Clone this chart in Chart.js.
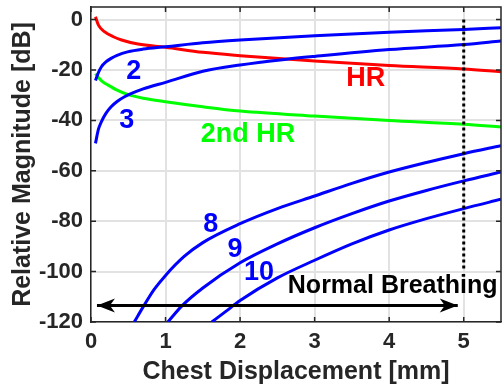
<!DOCTYPE html>
<html>
<head>
<meta charset="utf-8">
<script src="https://cdn.jsdelivr.net/npm/chart.js@4"></script>
<style>
  html, body { margin: 0; padding: 0; background: #fff; }
  canvas { display: block; }
</style>
</head>
<body>
<canvas id="chart" width="502" height="392"></canvas>
<script>
const FONT = "'Liberation Sans', Arial, sans-serif";
const INK = '#262626';
const GRID = '#e2e2e2';
const BLUE = '#0000ff';
const RED = '#ff0000';
const GREEN = '#00ff00';

// heartbeat fundamental and its second harmonic
const hrX = [0.06, 0.1, 0.18, 0.3, 0.41, 0.63, 1, 1.5, 2, 3, 4, 5, 5.5];
const hrY = [1.1, -2.2, -4.8, -6.8, -8.1, -9.7, -11, -13, -14.3, -16.4, -18.2, -19.6, -20.7];
const hr2X = [0.06, 0.1, 0.15, 0.23, 0.35, 0.49, 0.7, 1, 1.5, 2, 3, 4, 5, 5.5];
const hr2Y = [-21.4, -23, -24.5, -26, -28, -29.7, -31.2, -32.6, -34.6, -36.3, -38.3, -40, -41.5, -42.6];

// respiration harmonics
const h2X = [0.06, 0.1, 0.14, 0.2, 0.27, 0.35, 0.49, 0.7, 1, 1.5, 2, 3, 4, 5, 5.5];
const h2Y = [-24.2, -21, -18.7, -16.8, -15.4, -14.2, -12.8, -11.7, -10.8, -9.2, -8.1, -6.4, -5, -3.9, -3.2];
const h3X = [0.06, 0.1, 0.14, 0.2, 0.27, 0.35, 0.45, 0.7, 1, 1.5, 2, 2.6, 3, 4, 5, 5.5];
const h3Y = [-49.1, -43.5, -40.5, -37.2, -34.6, -32.5, -30.6, -27.5, -24.9, -20.5, -18, -15.8, -14.6, -11.9, -9.9, -8.5];
const h8X = [0.58, 0.7, 0.85, 1, 1.25, 1.5, 2, 2.5, 3, 3.5, 4, 4.5, 5, 5.5];
const h8Y = [-120, -114, -107, -101.5, -94, -88.5, -81, -75, -70, -65, -60.5, -56.7, -53.2, -50];
const h9X = [1.03, 1.22, 1.5, 2, 2.5, 3, 3.5, 4, 4.5, 5, 5.5];
const h9Y = [-120, -113.6, -106.5, -96.5, -89, -82.6, -77, -72, -67.8, -64, -60.5];
const h10X = [1.62, 1.8, 2, 2.5, 3, 3.5, 4, 4.5, 5, 5.5];
const h10Y = [-120, -116, -111.5, -102.5, -95.5, -89, -83.5, -79, -75, -71.3];

// normal breathing range marker and its upper limit
const breathX = [0.08, 4.92];
const breathY = -113.5;
const limitX = 5;
const limitY = [0, -100];

const xTicks = [0, 1, 2, 3, 4, 5];
const yTicks = [-120, -100, -80, -60, -40, -20, 0];

const tagText = ['2', '3', 'HR', '2nd HR', '8', '9', '10'];
const tagX = [0.574, 0.479, 3.687, 2.107, 1.608, 1.933, 2.255];
const tagY = [-20.7, -40.2, -23.3, -45.7, -81.5, -91.4, -100.4];
const tagColor = [BLUE, BLUE, RED, GREEN, BLUE, BLUE, BLUE];
const noteText = 'Normal Breathing';
const noteX = 4.047;
const noteY = -105.6;

const pts = (xs, ys) => xs.map((x, i) => ({ x, y: ys[i] }));

function curve(xs, ys, color) {
  return {
    data: pts(xs, ys),
    borderColor: color,
    borderWidth: 3,
    pointRadius: 0,
    cubicInterpolationMode: 'monotone',
    fill: false,
  };
}

function arrowHead(ctx, x, y, dir) {
  const L = 18, w = 7;
  ctx.beginPath();
  ctx.moveTo(x, y);
  ctx.lineTo(x - dir * L, y - w);
  ctx.lineTo(x - dir * L * 0.72, y);
  ctx.lineTo(x - dir * L, y + w);
  ctx.closePath();
  ctx.fill();
}

const framePlugin = {
  id: 'frame',
  afterDatasetsDraw(chart) {
    const { ctx, chartArea: a, scales: { x, y } } = chart;
    ctx.save();

    // arrow heads on the breathing range line
    ctx.fillStyle = '#000';
    const py = y.getPixelForValue(breathY);
    arrowHead(ctx, x.getPixelForValue(breathX[0]), py, -1);
    arrowHead(ctx, x.getPixelForValue(breathX[1]), py, 1);

    // top/right box edges and inward ticks
    ctx.strokeStyle = INK;
    ctx.lineWidth = 1.5;
    ctx.beginPath();
    ctx.moveTo(a.left, a.top);
    ctx.lineTo(a.right, a.top);
    ctx.lineTo(a.right, a.bottom);
    xTicks.forEach(v => {
      const px = x.getPixelForValue(v);
      ctx.moveTo(px, a.bottom); ctx.lineTo(px, a.bottom - 5);
      ctx.moveTo(px, a.top); ctx.lineTo(px, a.top + 5);
    });
    yTicks.forEach(v => {
      const p = y.getPixelForValue(v);
      ctx.moveTo(a.left, p); ctx.lineTo(a.left + 5, p);
      ctx.moveTo(a.right, p); ctx.lineTo(a.right - 5, p);
    });
    ctx.stroke();

    // curve tags
    ctx.textAlign = 'center';
    ctx.textBaseline = 'middle';
    ctx.font = `bold 27px ${FONT}`;
    tagText.forEach((t, i) => {
      ctx.fillStyle = tagColor[i];
      ctx.fillText(t, x.getPixelForValue(tagX[i]), y.getPixelForValue(tagY[i]));
    });
    ctx.font = `bold 25px ${FONT}`;
    ctx.fillStyle = '#000';
    ctx.fillText(noteText, x.getPixelForValue(noteX), y.getPixelForValue(noteY));
    ctx.restore();
  }
};

const tickFont = { family: FONT, size: 22, weight: 'bold' };
const titleFont = { family: FONT, size: 25, weight: 'bold' };

new Chart(document.getElementById('chart'), {
  type: 'line',
  data: {
    datasets: [
      {
        data: breathX.map(v => ({ x: v, y: breathY })),
        borderColor: '#000', borderWidth: 3, pointRadius: 0,
      },
      {
        data: limitY.map(v => ({ x: limitX, y: v })),
        borderColor: '#000', borderWidth: 3, borderDash: [3, 3], pointRadius: 0,
      },
      curve(h2X, h2Y, BLUE),
      curve(h3X, h3Y, BLUE),
      curve(h8X, h8Y, BLUE),
      curve(h9X, h9Y, BLUE),
      curve(h10X, h10Y, BLUE),
      curve(hrX, hrY, RED),
      curve(hr2X, hr2Y, GREEN),
    ]
  },
  options: {
    responsive: false,
    animation: false,
    layout: { padding: { top: 7, right: 1, left: 0, bottom: 0 } },
    plugins: { legend: { display: false }, tooltip: { enabled: false } },
    scales: {
      x: {
        type: 'linear',
        min: 0, max: 5.5,
        afterBuildTicks: s => { s.ticks = xTicks.map(v => ({ value: v })); },
        afterFit: s => { s.height = 70; s.paddingLeft = 0; s.paddingRight = 0; },
        grid: { color: GRID, lineWidth: 2, drawTicks: false },
        border: { display: true, color: INK, width: 1.5 },
        ticks: { font: tickFont, color: INK, padding: 7, maxRotation: 0 },
        title: { display: true, text: 'Chest Displacement [mm]', font: titleFont, color: INK, padding: { top: 0, bottom: 5 } }
      },
      y: {
        min: -120, max: 5,
        afterBuildTicks: s => { s.ticks = yTicks.map(v => ({ value: v })); },
        afterFit: s => { s.width = 91; s.paddingTop = 0; s.paddingBottom = 0; },
        grid: { color: GRID, lineWidth: 2, drawTicks: false },
        border: { display: true, color: INK, width: 1.5 },
        ticks: { font: tickFont, color: INK, padding: 8 },
        title: { display: true, text: 'Relative Magnitude [dB]', font: titleFont, color: INK, padding: { top: 8, bottom: 0 } }
      }
    }
  },
  plugins: [framePlugin]
});
</script>
</body>
</html>
